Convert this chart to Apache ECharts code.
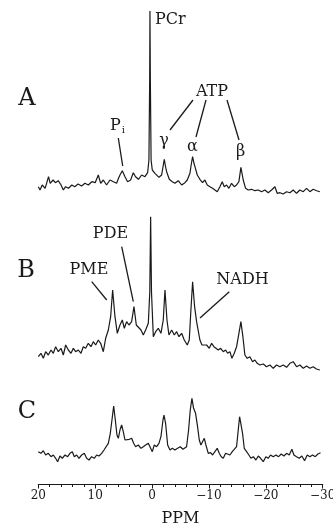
<!DOCTYPE html>
<html>
<head>
<meta charset="utf-8">
<script src="https://cdn.jsdelivr.net/npm/echarts@6/dist/echarts.min.js"></script>
<style>
  html, body { margin: 0; padding: 0; background: #fff; }
  #main { width: 333px; height: 527px; }
</style>
</head>
<body>
<div id="main"></div>
<script>
// chemical shift (ppm) and intensity
var ppmA = [20.0, 19.7, 19.3, 18.8, 18.2, 17.9, 17.4, 17.0, 16.5, 16.0, 15.6, 15.2, 14.7, 14.1, 13.6, 13.0, 12.4, 11.8, 11.2, 10.6, 10.0, 9.45, 9.04, 8.57, 8.0, 7.4, 6.8, 6.23, 5.9, 5.64, 5.23, 4.76, 4.3, 3.77, 3.3, 2.9, 2.4, 1.83, 1.25, 0.78, 0.55, 0.42, 0.37, 0.30, 0.17, -0.04, -0.51, -1.21, -1.68, -1.95, -2.15, -2.35, -2.56, -3.03, -3.56, -4.02, -4.61, -5.2, -5.78, -6.19, -6.66, -6.9, -7.13, -7.35, -7.54, -7.95, -8.41, -8.88, -9.29, -9.7, -10.17, -10.64, -11.05, -11.46, -11.93, -12.34, -12.69, -13.1, -13.51, -13.98, -14.45, -14.86, -15.27, -15.62, -16.03, -16.44, -16.91, -17.5, -18.08, -18.67, -19.25, -19.84, -20.42, -21.01, -21.6, -22.0, -22.5, -23.06, -23.65, -24.23, -24.82, -25.4, -25.99, -26.58, -27.16, -27.75, -28.33, -28.92, -29.5];
var intA = [3.3, 0, 5, 1.7, 13.3, 6.7, 10, 7.3, 9.3, 5, 0, 3.3, 1.7, 5, 3.3, 6, 4, 6.7, 5, 8.3, 7.3, 15, 6.7, 10, 5, 10, 8.3, 6.7, 11.7, 15, 19.3, 13.3, 8.3, 10, 17.3, 13.3, 10.7, 15, 13.3, 17.3, 30, 110, 179, 110, 30, 20, 16.7, 12.7, 15, 24, 30.7, 24, 18.3, 10.7, 8.3, 6.7, 9.3, 5, 7.3, 10, 16.7, 26, 33.3, 27, 23.3, 15, 10.7, 7.3, 10, 5, 3.3, 1.7, 0, -1.7, 3.3, 8.3, 3.3, 5, 1.7, 6.7, 3.3, 5, 8.3, 22.7, 10, 1.7, 0, 0.7, -0.7, 0, -1.7, 0, -2.7, 0, 3.3, -3.3, -2.7, -4, -1.7, -2.7, 0, -3.3, 0, -1.7, 1.7, -1.7, 0.7, -0.7, -1.7];

var ppmB = [20.0, 19.53, 19.12, 18.71, 18.24, 17.77, 17.36, 16.95, 16.48, 16.01, 15.6, 15.19, 14.72, 14.25, 13.84, 13.43, 12.96, 12.5, 12.09, 11.68, 11.21, 10.74, 10.33, 9.92, 9.45, 9.04, 8.57, 8.16, 7.69, 7.28, 6.93, 6.52, 6.11, 5.64, 5.23, 4.88, 4.47, 4.06, 3.59, 3.18, 2.77, 2.42, 1.95, 1.54, 1.13, 0.66, 0.4, 0.25, 0.1, -0.22, -0.63, -1.1, -1.56, -1.97, -2.27, -2.62, -2.97, -3.44, -3.91, -4.32, -4.73, -5.2, -5.66, -5.78, -6.19, -6.54, -6.83, -7.13, -7.48, -7.83, -8.12, -8.41, -8.77, -9.12, -9.59, -10.06, -10.47, -10.88, -11.23, -11.64, -12.05, -12.52, -12.93, -13.28, -13.69, -14.04, -14.45, -14.86, -15.27, -15.62, -15.97, -16.32, -16.73, -17.2, -17.67, -18.08, -18.49, -18.96, -19.55, -20.13, -20.72, -21.3, -21.89, -22.47, -23.06, -23.65, -24.23, -24.82, -25.4, -25.99, -26.58, -27.16, -27.75, -28.33, -28.9, -29.5];
var intB = [5.3, 8.7, 3.7, 10.3, 7, 12, 8.7, 15.3, 10.3, 13.7, 7, 17, 12, 8.7, 13.7, 10.3, 12, 8.7, 15.3, 13.7, 18.7, 15.3, 20.3, 17, 22, 18.7, 10.3, 23.7, 32, 45.3, 72, 45.3, 28.7, 37, 42, 33.7, 40.3, 37, 40.3, 55.3, 37, 38.7, 32, 27, 32, 38.7, 70, 145.3, 70, 25.3, 30.3, 33.7, 28.7, 42, 72, 42, 27, 32, 27, 30.3, 25.3, 28.7, 22, 23.7, 17, 22, 52, 80.3, 55.3, 40.3, 38.7, 22, 17, 15.3, 17, 13.7, 18.7, 15.3, 17, 12, 13.7, 10.3, 12, 8.7, 10.3, 3.7, 8.7, 15.3, 28.7, 40.3, 25.3, 7, 3.7, 5.3, 0.3, 2, -1.3, -3, -2, -4.7, -3, -6.3, -3, -4.7, -3, -5.3, -1.3, 0.3, -4.7, -3, -6.3, -4, -6.3, -4.7, -7, -8];

var ppmC = [20.0, 19.53, 19.12, 18.71, 18.24, 17.77, 17.36, 16.95, 16.6, 16.19, 15.78, 15.31, 14.84, 14.43, 14.02, 13.67, 13.26, 12.85, 12.38, 11.91, 11.5, 11.09, 10.62, 10.15, 9.74, 9.33, 8.86, 8.45, 8.1, 7.69, 7.34, 7.05, 6.75, 6.46, 6.17, 5.93, 5.64, 5.35, 5.06, 4.76, 4.41, 4.0, 3.59, 3.24, 2.89, 2.42, 1.95, 1.54, 1.13, 0.66, 0.31, -0.04, -0.39, -0.8, -1.21, -1.56, -1.92, -2.09, -2.38, -2.74, -3.15, -3.56, -4.02, -4.49, -4.96, -5.43, -5.78, -6.07, -6.42, -6.72, -7.01, -7.3, -7.65, -8.0, -8.3, -8.59, -8.88, -9.18, -9.47, -9.88, -10.29, -10.64, -11.05, -11.46, -11.81, -12.16, -12.52, -12.93, -13.28, -13.69, -14.1, -14.45, -14.86, -15.15, -15.39, -15.5, -15.68, -15.91, -16.21, -16.62, -17.03, -17.38, -17.79, -18.26, -18.67, -19.08, -19.55, -20.01, -20.42, -20.83, -21.3, -21.77, -22.24, -22.71, -23.18, -23.65, -24.12, -24.58, -24.94, -25.4, -25.87, -26.34, -26.81, -27.28, -27.75, -28.22, -28.69, -29.16, -29.62];
var intC = [10.3, 8.7, 11.3, 7, 8.7, 5.3, 7, 3.7, 0.3, 6, 3.7, 7, 5.3, 8.7, 10.3, 5.3, 7, 3.7, 7, 8.7, 3.7, 2, 5.3, 3.7, 7, 6, 8.7, 12, 13.7, 18.7, 28.7, 42, 56, 42, 27, 23.7, 32, 37, 30.3, 22, 20.3, 22.7, 23.7, 18.7, 15.3, 17, 13.7, 15.3, 17, 18.7, 20.3, 10.3, 17, 15.3, 18.7, 25.3, 42, 47, 38.7, 17, 12, 13.7, 12, 13.7, 15.3, 12.7, 13.7, 15.3, 32, 52, 63.7, 53.7, 48.7, 35.3, 22, 17, 18.7, 23.7, 17, 8.7, 9.3, 7, 10.3, 13.7, 8.7, 5.3, 3.7, 8.7, 10.3, 7, 10.3, 12, 15.3, 32, 45.3, 47, 43.7, 28.7, 13.7, 10.3, 7, 3.7, 5.3, 2, 6, 3.7, 0.3, 5.3, 3.7, 7, 5.3, 7, 5.3, 8, 6, 8.7, 7, 12.7, 7, 5.3, 3.7, 6, 1.3, 7, 5.3, 7, 5.3, 8, 9.3];

var xTicks = [20, 10, 0, -10, -20, -30];

// vertical stacking offsets of the three traces
var offsetA = 294, offsetB = 122, offsetC = 22;

function pairs(ppm, vals, offset) {
  return ppm.map(function (p, i) { return [p, vals[i] + offset]; });
}

var ink = '#1a1a1a';
var serif = 'DejaVu Serif';

function lbl(text, x, y, size, align) {
  return {
    type: 'text', x: x, y: y, silent: true,
    style: { text: text, font: size + 'px "' + serif + '"', fill: ink, align: align || 'center', verticalAlign: 'middle' }
  };
}
function seg(x1, y1, x2, y2) {
  return {
    type: 'line', silent: true,
    shape: { x1: x1, y1: y1, x2: x2, y2: y2 },
    style: { stroke: ink, lineWidth: 1.3 }
  };
}

function trace(name, data) {
  return {
    name: name, type: 'line', data: data,
    showSymbol: false, symbol: 'none',
    lineStyle: { color: ink, width: 1.2 },
    animation: false, silent: true
  };
}

var chart = echarts.init(document.getElementById('main'));
chart.setOption({
  backgroundColor: '#fff',
  animation: false,
  grid: { left: 38.3, right: 10.3, top: 0, bottom: 43, containLabel: false, outerBoundsMode: 'none' },
  xAxis: {
    type: 'value', min: -30, max: 20, interval: 10, inverse: true,
    name: 'PPM', nameLocation: 'middle', nameGap: 27,
    nameTextStyle: { fontFamily: serif, fontSize: 16, color: ink },
    axisLine: { lineStyle: { color: ink, width: 1.2 } },
    axisTick: { length: 4.5, lineStyle: { color: ink, width: 1 } },
    minorTick: { show: true, splitNumber: 5, length: 3, lineStyle: { color: ink, width: 1 } },
    splitLine: { show: false },
    axisLabel: {
      margin: 6, fontFamily: serif, fontSize: 12, color: ink,
      formatter: function (v) { return xTicks.indexOf(v) < 0 ? '' : (v < 0 ? '\u2212' + (-v) : String(v)); }
    }
  },
  yAxis: { type: 'value', min: 0, max: 484, show: false },
  series: [
    trace('A', pairs(ppmA, intA, offsetA)),
    trace('B', pairs(ppmB, intB, offsetB)),
    trace('C', pairs(ppmC, intC, offsetC))
  ],
  graphic: [
    lbl('A', 27, 99, 24), lbl('B', 26, 271, 24), lbl('C', 27, 412, 24),
    lbl('PCr', 155, 20, 16, 'left'),
    lbl('ATP', 212, 92, 16),
    {
      type: 'text', x: 110, y: 126, silent: true,
      style: {
        text: '{p|P}{s|i}', fill: ink, verticalAlign: 'middle',
        rich: { p: { font: '16px "' + serif + '"', fill: ink }, s: { font: '10px "' + serif + '"', fill: ink, padding: [8, 0, 0, 1] } }
      }
    },
    lbl('\u03b3', 164, 141, 16), lbl('\u03b1', 192.5, 146.5, 16), lbl('\u03b2', 240.5, 152, 16),
    seg(118.3, 138, 122.7, 166),
    seg(193, 100, 170, 130), seg(206, 100, 196, 137), seg(227, 100, 239, 140),
    lbl('PDE', 110.5, 233.5, 16), lbl('PME', 89, 270, 16), lbl('NADH', 242.5, 280, 16),
    seg(121.7, 246.7, 133.3, 301.7), seg(91.7, 281.7, 106.7, 300), seg(229.3, 291.7, 200, 318)
  ]
});
</script>
</body>
</html>
